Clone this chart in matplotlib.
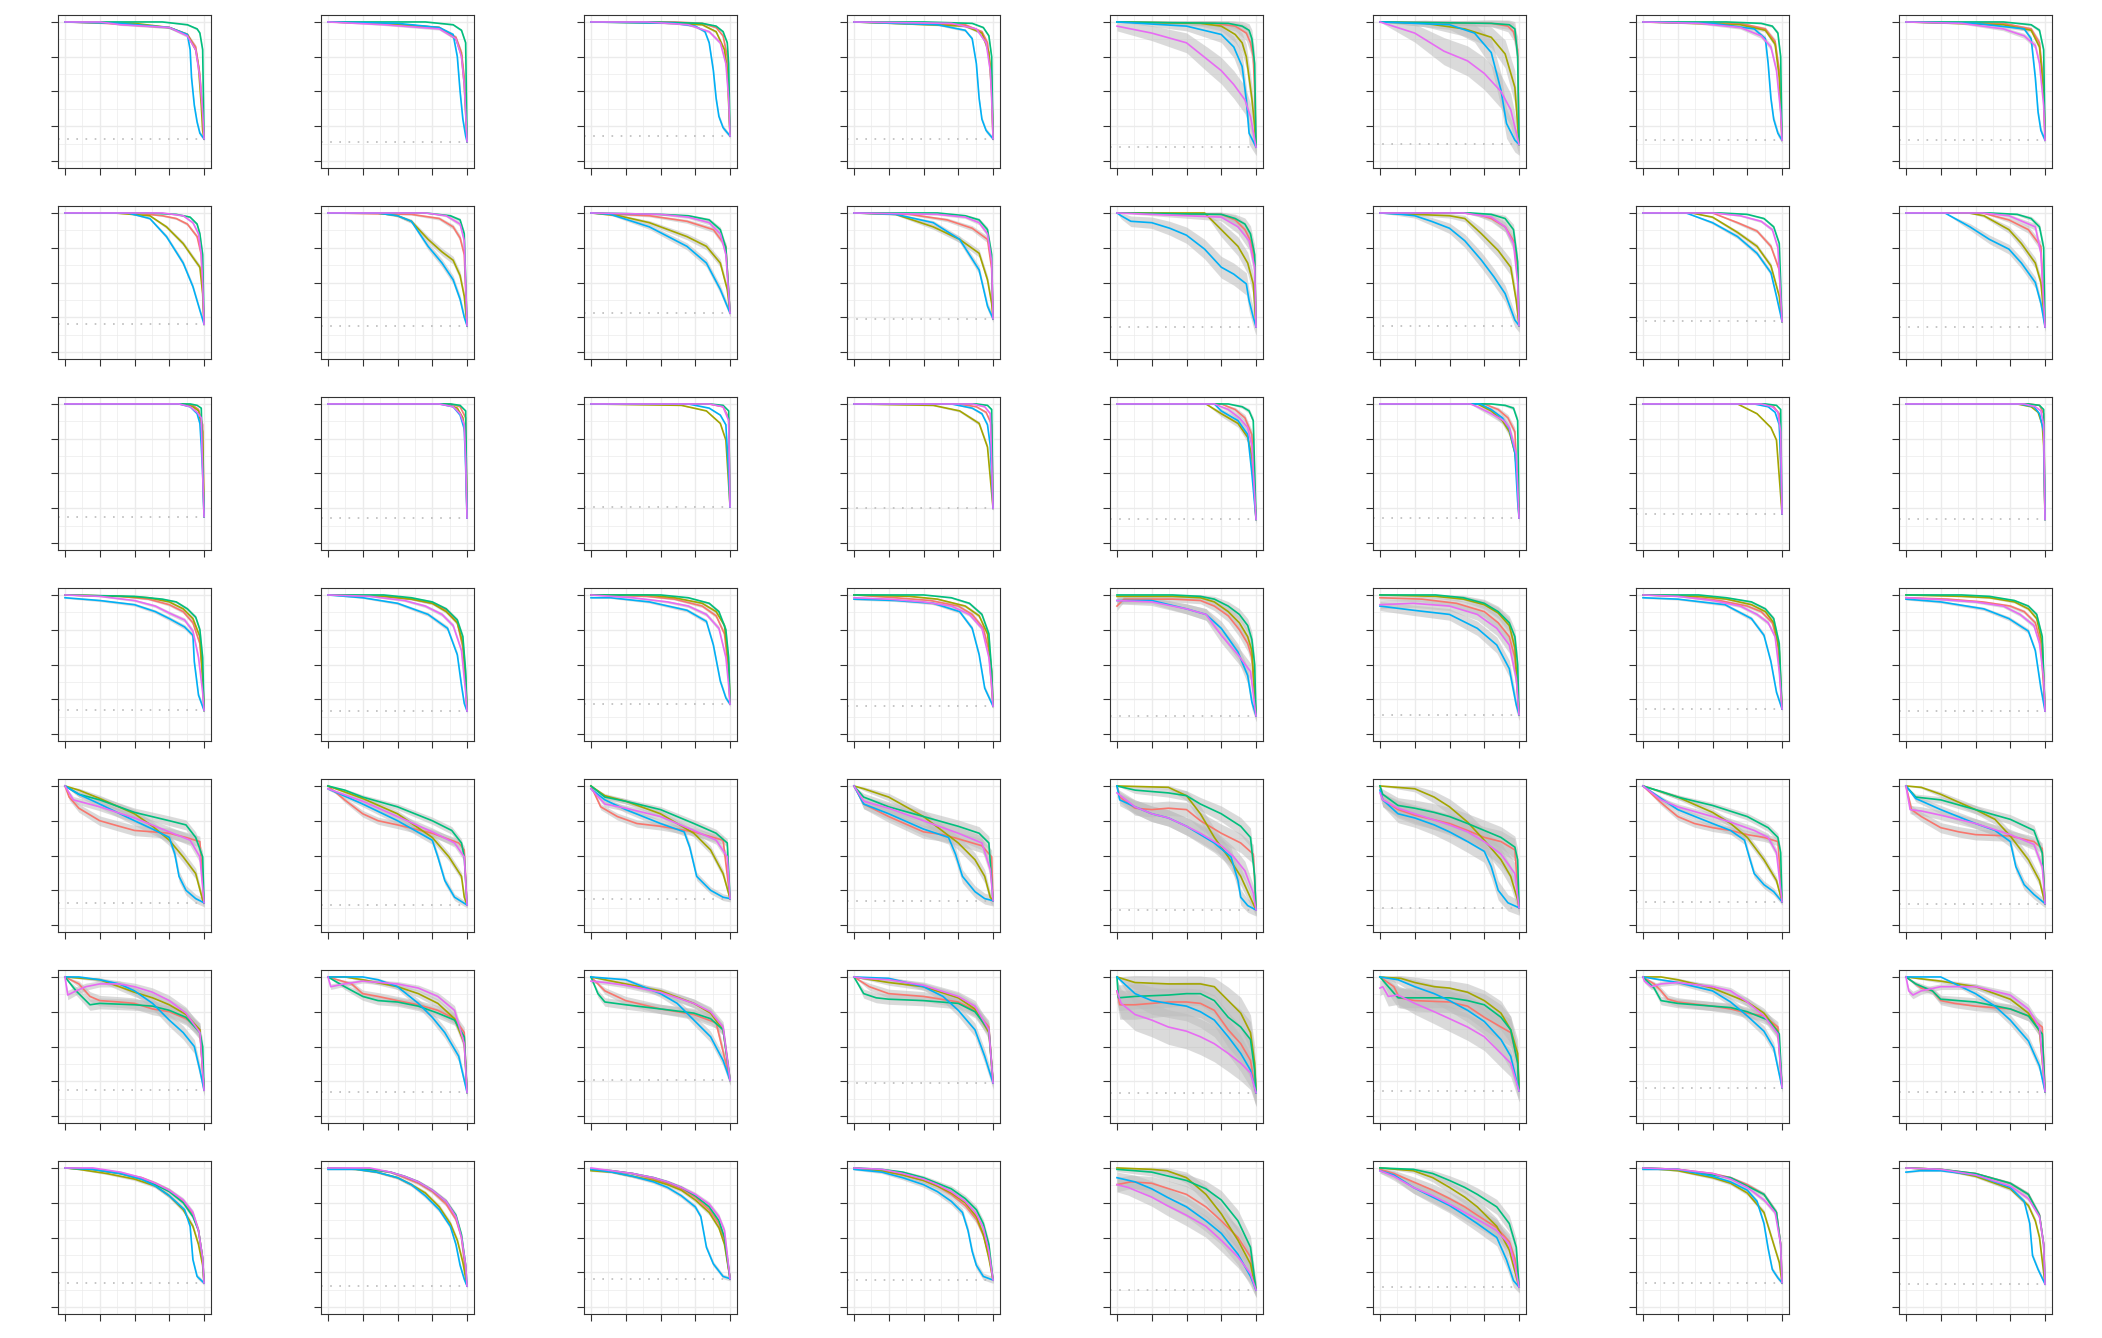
import numpy as np
import matplotlib
matplotlib.use("Agg")
import matplotlib.pyplot as plt

# series order in every panel: red, olive, green, blue, magenta
COLORS = ["#F8766D", "#A3A500", "#00BF7D", "#00B0F6", "#E76BF3"]

# each curve is "x:y x:y ..." in percent; every curve ends at (100, baseline)
ROW1 = [
    ["0:100 30:99 75:96 88:91 94:82 97:62 99:35", "0:100 50:99 75:96 88:91 94:80 96:68 98:40 99:22",
     "0:100 70:100 88:98 95:95 97:92 99:80", "0:100 40:99 75:96 88:91 90:80 91:60 93:40 95:28 97:20",
     "0:100 25:100 40:98 75:96 88:90 94:80 97:60 99:35"],
    ["0:100 40:99 80:96 92:89 96:78 98:60 99:40", "0:100 40:99 80:96 92:88 96:76 98:55 99:35",
     "0:100 70:100 90:98 96:94 99:85", "0:100 50:99 80:96 90:91 93:75 95:50 97:30 99:18",
     "0:100 40:98 80:95 92:88 96:75 98:55 99:35"],
    ["0:100 60:100 80:99 90:96 95:90 98:75", "0:100 60:99 80:98 90:93 96:80 98:65",
     "0:100 45:100 80:99 90:97 95:93 98:85 99:70", "0:100 60:99 75:97 82:93 85:85 88:65 90:45 92:32 95:24",
     "0:100 40:100 70:98 85:93 93:85 97:70 99:45"],
    ["0:100 80:98 92:93 96:85 99:60", "0:100 80:97 92:92 97:78 99:50",
     "0:100 50:100 85:99 93:96 97:90 99:75", "0:100 60:98 80:94 85:88 88:70 90:45 92:30 95:22",
     "0:100 70:99 88:95 95:85 98:65 99:45"],
    ["0:100 70:99 85:97 93:92 96:85 98:75 99:50", "0:100 60:99 75:97 85:91 90:85 93:75 95:60 97:45 99:25",
     "0:100 80:99 90:97 95:94 97:88 99:70", "0:100 50:97 75:91 84:82 90:68 93:44 95:20",
     "0:97 25:92 50:85 65:73 75:65 84:55 92:44 96:32"],
    ["0:100 80:99 92:97 96:93 99:80", "0:100 32:99 61:95 80:89 90:77 97:53",
     "0:100 80:99 93:98 97:95 99:75", "0:100 50:98 68:92 80:78 87:51 91:27 97:15",
     "0:100 25:92 46:79 63:72 75:63 87:50 94:37"],
    ["0:100 70:99 88:95 95:86 98:65", "0:100 70:98 88:94 95:84 98:60",
     "0:100 60:100 85:99 93:97 97:92 99:75", "0:100 50:99 80:95 88:88 90:70 92:45 94:30 97:20",
     "0:100 40:99 70:96 85:90 92:82 96:65 99:35"],
    ["0:100 70:99 90:95 96:85 99:55", "0:100 70:98 90:94 96:82 99:50",
     "0:100 70:100 90:98 96:94 99:80", "0:100 50:99 85:95 90:88 93:60 95:35 97:22",
     "0:100 40:99 70:95 85:90 93:83 96:70 99:40"],
]

ROW2 = [
    ["0:100 50:100 70:98 80:96 88:92 95:83 98:70", "0:100 35:100 61:98 73:90 85:78 92:68 97:61 99:42",
     "0:100 60:100 80:99 90:97 95:92 97:85 99:70", "0:100 45:100 61:96 73:83 85:64 92:47 97:30",
     "0:100 70:100 85:98 92:93 96:85 98:70 99:50"],
    ["0:100 60:99 80:96 90:90 95:82 98:70", "0:100 35:100 50:98 60:94 72:81 82:72 90:66 95:55 98:40",
     "0:100 70:100 88:98 95:95 98:85", "0:100 35:100 50:98 60:94 72:76 82:64 90:52 95:38 98:25",
     "0:100 70:100 85:98 95:92 98:80"],
    ["0:100 20:99 42:98 69:94 88:88 97:76", "0:100 20:98 42:93 69:83 83:76 93:64 98:45",
     "0:100 50:99 70:98 85:95 93:88 97:75", "0:100 14:99 42:90 69:76 83:64 93:45",
     "0:100 50:99 70:97 85:93 93:85 97:70"],
    ["0:100 40:99 67:95 85:89 96:81 99:60", "0:100 30:99 57:90 76:81 90:71 96:52 99:35",
     "0:100 60:100 80:98 90:95 96:88 99:70", "0:100 30:99 57:93 76:81 90:59 96:33",
     "0:100 60:99 80:97 90:93 96:85 99:65"],
    ["0:100 75:99 85:95 92:88 96:80 99:65", "0:100 63:100 75:88 87:76 94:64 98:49",
     "0:100 75:99 85:96 92:92 96:85 99:70",
     "0:100 3:98 10:94 25:93 38:89 50:84 63:74 75:61 84:56 93:49 95:37 98:25",
     "0:100 75:97 87:90 95:80 99:61"],
    ["0:100 60:100 70:99 80:96 90:90 96:80 99:60", "0:100 50:98 61:96 73:85 85:73 94:61 98:37",
     "0:100 65:100 80:99 90:96 96:88 99:65", "0:100 15:99 25:98 37:94 50:89 61:80 73:66 82:54 90:42 97:23",
     "0:100 60:100 80:97 90:90 96:78 99:50"],
    ["0:100 50:100 68:93 82:87 92:76 98:59", "0:100 35:100 50:97 68:86 82:76 92:62 98:40",
     "0:100 55:100 75:99 87:96 94:90 98:78", "0:100 31:100 50:93 68:83 82:71 92:57 96:40",
     "0:100 50:100 70:98 85:94 93:88 97:75"],
    ["0:100 55:100 74:95 88:88 97:76", "0:100 45:100 56:98 74:88 83:78 93:64 97:50",
     "0:100 60:100 80:99 90:96 96:90 99:75", "0:100 28:100 46:90 60:81 74:74 83:64 93:50 97:35",
     "0:100 55:100 74:98 93:90 97:71"],
]

ROW3 = [
    ["0:100 85:100 92:99 96:96 99:85", "0:100 85:100 92:98 96:95 99:80", "0:100 90:100 95:99 98:97",
     "0:100 82:100 90:98 95:93 97:86 98:70 99:50", "0:100 82:100 90:98 95:94 98:90 99:50"],
    ["0:100 88:100 95:98 99:90", "0:100 85:100 93:97 97:90 99:75", "0:100 88:100 95:99 99:95",
     "0:100 80:100 90:98 95:92 98:82 99:55", "0:100 80:100 90:98 95:93 98:85 99:60"],
    ["0:100 85:100 95:98 99:90", "0:100 65:99 83:95 93:86 97:74", "0:100 85:100 95:99 99:95",
     "0:100 70:100 85:97 93:92 97:85 99:50", "0:100 85:100 95:98 99:88"],
    ["0:100 75:100 88:98 95:94 99:85", "0:100 57:99 76:95 90:86 96:69", "0:100 88:100 96:99 99:96",
     "0:100 70:100 85:97 92:93 96:85 98:70", "0:100 85:100 94:98 98:93"],
    ["0:100 75:100 85:96 92:90 97:78", "0:100 64:100 75:93 87:86 94:76 97:62",
     "0:100 80:100 90:98 95:95 98:88", "0:100 70:100 75:95 87:88 94:78 97:50",
     "0:100 70:100 80:96 88:90 94:83 97:70"],
    ["0:100 75:100 85:96 92:90 97:80", "0:100 70:100 80:95 88:88 93:80 97:65 99:45",
     "0:100 80:100 90:99 96:97 99:88", "0:100 72:100 80:96 88:90 93:82 97:65 99:30",
     "0:100 65:100 70:98 80:93 89:88 93:83 98:64"],
    ["0:100 85:100 94:98 98:93", "0:100 68:100 82:93 92:83 96:74", "0:100 88:100 96:99 99:96",
     "0:100 80:100 90:98 95:94 98:85 99:60", "0:100 85:100 93:98 97:94 99:80"],
    ["0:100 88:100 96:99 99:93", "0:100 80:100 90:98 95:94 98:85 99:70", "0:100 88:100 96:99 99:96",
     "0:100 82:100 92:98 96:93 99:80", "0:100 85:100 93:98 97:95 99:85"],
]

ROW4 = [
    ["0:100 40:99 60:97 75:93 85:88 92:80 97:65 99:40", "0:100 40:99 60:98 75:95 85:90 92:83 97:70 99:40",
     "0:100 50:99 70:97 80:95 88:90 94:84 97:75 99:55", "0:98 25:96 50:93 65:88 75:83 86:77 92:71 93:52 96:28",
     "0:100 25:99 50:96 65:92 75:87 86:82 92:74 96:55 99:30"],
    ["0:100 40:99 60:97 75:94 85:89 93:80 97:62 99:35", "0:100 40:99 60:97 75:94 85:88 93:80 97:65 99:40",
     "0:100 40:100 60:98 75:95 85:90 93:82 97:70 99:45", "0:100 25:98 50:94 72:86 86:76 93:57 96:35 98:22",
     "0:100 30:99 55:96 70:92 82:86 90:78 96:60 99:30"],
    ["0:100 40:99 60:97 80:92 90:85 96:72 99:45", "0:100 40:100 60:98 80:94 90:88 96:78 99:50",
     "0:100 50:100 70:98 85:94 92:88 97:75 99:55", "0:98 14:98 42:95 69:89 83:81 88:64 93:38 97:26",
     "0:100 30:98 55:95 70:92 83:86 92:76 97:55 99:35"],
    ["0:100 30:98 55:96 75:92 85:86 93:76 97:60", "0:100 40:99 60:97 80:92 90:85 96:72 99:45",
     "0:100 50:100 70:98 83:94 92:86 97:72 99:45", "0:97 30:96 57:94 76:88 85:76 90:57 94:33",
     "0:98 25:97 50:95 70:92 83:86 92:76 97:55 99:35"],
    ["0:92 5:97 40:97 60:96 70:92 80:85 88:75 94:65 97:55", "0:99 40:99 60:98 70:95 80:88 88:80 94:70 97:60",
     "0:100 40:100 60:99 70:97 80:92 88:86 94:78 97:68 99:50", "0:96 25:96 50:90 64:86 75:76 87:59 94:42 97:23",
     "0:96 25:95 50:90 64:86 75:71 87:57 96:45"],
    ["0:98 30:97 55:94 75:88 85:80 93:70 97:55", "0:100 40:99 60:97 75:93 85:87 93:78 97:62",
     "0:100 40:100 60:98 75:94 85:88 93:80 97:70 99:50", "0:92 24:89 50:86 70:76 84:64 93:47 98:21",
     "0:93 24:94 50:92 70:86 84:76 93:64 98:40"],
    ["0:100 30:99 55:96 75:92 85:88 93:80 97:65", "0:100 40:99 60:97 78:93 88:88 94:80 98:60",
     "0:100 40:100 60:98 78:95 88:90 94:83 98:65", "0:98 25:97 59:93 78:83 87:71 92:52 96:30",
     "0:100 25:99 50:96 70:92 82:86 90:80 95:70 98:45"],
    ["0:98 30:97 55:95 75:92 85:88 93:80 97:65", "0:100 40:99 60:98 78:95 88:90 94:83 98:65",
     "0:100 40:100 60:99 78:96 88:92 94:86 98:70", "0:97 25:95 56:90 74:83 88:74 93:60 97:33",
     "0:98 20:97 50:95 70:92 82:86 92:78 96:65 99:40"],
]

ROW5 = [
    ["0:100 3:92 10:84 25:75 39:71 50:68 63:67 75:66 87:63 97:60",
     "0:100 10:97 25:91 50:80 63:71 75:61 85:49 94:37 99:18",
     "0:100 10:94 25:90 50:81 75:75 87:72 94:63 99:49",
     "0:100 10:94 25:87 50:75 63:69 75:63 79:51 82:35 87:25 94:19",
     "0:100 6:90 25:85 50:77 75:67 90:61 97:49"],
    ["0:100 12:90 25:80 36:75 50:72 75:66 94:59 98:54",
     "0:100 25:91 50:80 75:63 87:49 96:35 98:20",
     "0:100 12:97 25:92 50:85 75:75 89:68 96:59 98:49",
     "0:98 25:87 50:75 75:61 79:49 84:32 91:20",
     "0:98 25:89 50:78 75:67 91:59 98:49"],
    ["0:100 7:85 19:78 33:73 50:71 74:67 95:61",
     "0:100 10:93 25:89 50:80 74:66 86:54 95:37",
     "0:100 10:92 25:89 50:83 74:73 90:66 98:59",
     "0:98 10:90 25:83 50:73 67:67 71:56 76:35 86:25 95:20",
     "0:98 10:87 25:84 50:78 74:68 90:61 98:49"],
    ["0:100 7:87 25:78 50:67 64:65 75:62 92:57 99:49",
     "0:100 7:98 25:92 50:78 75:59 87:47 94:35 98:20",
     "0:100 7:92 25:85 50:78 75:71 90:66 97:59",
     "0:100 7:87 25:80 50:69 68:63 73:51 78:35 87:24 94:19",
     "0:100 7:89 25:84 50:75 75:66 92:59 98:40"],
    ["0:100 2:92 13:84 25:83 37:84 50:83 60:75 75:66 89:59 98:51",
     "0:100 37:99 50:93 60:80 70:63 80:49 89:35",
     "0:100 13:97 37:95 50:93 60:87 75:80 89:71 96:63 99:35",
     "0:100 2:90 13:85 25:80 37:77 50:71 60:65 70:59 82:49 87:32 89:20 94:14",
     "0:95 13:85 25:80 37:77 50:71 60:66 75:57 84:49 92:39 98:23"],
    ["0:100 2:90 13:83 25:79 50:73 63:68 75:63 87:60 97:54",
     "0:100 25:98 39:92 50:85 63:74 75:61 87:47 94:35 99:18",
     "0:100 2:94 13:86 25:84 39:81 50:78 63:73 75:68 87:63 97:56 99:47",
     "0:97 2:90 13:80 25:77 39:72 50:67 63:60 75:53 80:42 85:25 92:16",
     "0:95 2:90 13:84 25:80 50:72 63:67 75:60 87:51 97:37"],
    ["0:100 13:88 25:78 37:73 50:70 63:68 75:65 87:63 97:60",
     "0:100 25:92 50:81 63:73 75:63 87:47 96:32",
     "0:100 13:96 25:92 50:86 75:78 90:70 97:63 99:52",
     "0:100 13:91 25:83 50:73 63:68 73:61 77:47 80:37 87:29 94:24",
     "0:100 13:90 25:85 50:78 63:74 80:68 90:63 96:52"],
    ["0:100 4:83 11:78 25:70 38:67 50:65 75:64 92:60 98:55",
     "0:100 11:99 25:94 50:83 64:76 75:64 88:47 96:32",
     "0:100 7:92 25:90 50:83 75:76 92:68 98:52",
     "0:100 7:91 25:83 50:73 64:68 75:60 79:42 85:29 92:22",
     "0:100 3:83 11:82 25:79 50:73 75:65 92:58 98:42"],
]

ROW6 = [
    ["0:100 10:95 18:86 25:83 39:82 50:81 63:77 75:75 87:70 97:62",
     "0:100 25:98 39:93 50:89 63:85 75:80 87:73 97:62",
     "0:100 8:90 18:80 25:81 50:80 63:79 75:76 87:71 97:60 99:50",
     "0:100 10:100 25:98 39:95 50:90 63:81 75:69 85:60 93:50 97:33",
     "0:100 2:87 8:90 15:93 25:95 39:95 50:93 63:89 75:83 87:74 97:60"],
    ["0:100 17:95 25:88 36:86 50:83 65:80 79:76 91:70 98:60",
     "0:100 12:100 25:98 50:93 65:88 79:81 91:70 98:52",
     "0:100 12:93 25:86 36:83 50:82 65:79 79:74 91:69 98:57",
     "0:100 25:100 36:98 50:93 65:81 75:71 84:60 94:43",
     "0:100 2:93 12:95 25:97 50:95 65:92 79:86 91:76 98:52"],
    ["0:100 10:90 25:83 50:77 74:73 90:67",
     "0:100 25:95 50:90 74:81 86:74 95:62",
     "0:100 5:88 10:82 25:80 50:77 74:74 86:70 95:62",
     "0:100 25:98 50:88 62:81 74:69 86:57 95:40",
     "0:97 10:96 25:94 50:89 74:81 86:75 95:64"],
    ["0:100 11:93 25:88 50:86 75:82 87:76 97:64",
     "0:100 25:96 50:93 75:85 87:77 97:60",
     "0:100 7:88 16:85 25:84 50:83 75:81 87:75 97:62",
     "0:100 25:99 50:93 64:86 75:76 87:62 94:43",
     "0:100 7:99 25:98 50:94 75:86 87:79 97:62"],
    ["0:90 2:80 13:80 37:82 50:82 60:81 70:76 80:62 89:52 96:40",
     "0:100 13:96 37:95 60:95 70:93 80:83 89:74 96:60 99:38",
     "0:100 1:85 13:86 37:87 50:88 60:88 70:83 80:71 89:64 96:55 99:33",
     "0:100 13:88 25:83 37:81 50:79 60:75 70:69 80:57 89:45 96:33",
     "0:90 3:81 13:73 25:69 37:64 50:61 60:57 70:52 80:45 89:38 96:31"],
    ["0:100 10:93 14:85 25:83 50:82 63:79 75:71 87:64 94:60 99:40",
     "0:100 15:99 25:96 39:93 50:92 63:89 75:83 87:74 94:62 99:45",
     "0:100 6:93 13:85 25:85 50:85 63:83 75:80 87:71 94:62 99:38",
     "0:100 13:98 25:93 39:88 50:83 63:76 75:68 87:55 94:43",
     "0:92 2:93 6:86 13:87 25:81 39:75 50:70 63:64 75:57 87:45 94:38"],
    ["0:100 8:95 13:90 18:84 25:82 50:79 63:77 75:74 87:72 97:64",
     "0:100 13:100 25:98 50:92 75:82 87:74 97:61",
     "0:100 8:92 13:83 25:81 50:79 63:78 75:75 90:69 98:59",
     "0:100 25:96 50:90 63:82 75:72 87:61 94:49",
     "0:100 1:97 6:93 13:95 25:96 50:93 63:90 75:82 87:72 97:59"],
    ["0:100 11:92 19:90 25:83 35:81 50:79 75:77 88:72 98:64",
     "0:100 25:97 50:93 75:84 88:74 96:61",
     "0:100 7:95 19:90 25:84 50:82 75:77 88:72 98:59",
     "0:100 25:100 50:88 64:79 75:69 88:54 96:36",
     "0:100 2:90 5:87 11:90 25:93 50:93 75:87 88:77 96:64"],
]

ROW7 = [
    ["0:100 20:99 40:96 55:93 65:89 75:84 85:76 92:67 96:55 99:35",
     "0:100 10:99 30:96 50:92 65:87 75:80 85:70 92:58 96:45 99:30",
     "0:100 20:99 40:96 55:92 65:88 75:83 85:75 92:65 96:55 99:35",
     "0:100 20:99 40:96 55:92 65:87 75:80 86:70 90:58 92:34 95:22",
     "0:100 20:100 40:97 55:93 65:89 75:84 85:77 92:68 96:55 99:35"],
    ["0:100 30:99 45:97 55:93 65:89 75:83 85:74 92:63 96:50",
     "0:100 20:99 35:97 50:93 60:88 70:82 80:72 88:60 93:48 97:32",
     "0:100 30:99 45:97 55:94 65:90 75:84 85:76 92:66 96:52 99:30",
     "0:99 20:99 35:97 50:93 60:88 70:80 80:70 88:58 92:45 95:30 98:20",
     "0:100 30:100 45:97 55:94 65:90 75:84 85:76 92:65 96:50 99:30"],
    ["0:99 15:98 30:96 45:92 55:89 65:85 75:79 85:70 92:60 96:48",
     "0:98 15:97 30:94 45:91 55:88 65:84 75:77 85:68 92:57 96:45",
     "0:99 15:98 30:96 45:93 55:90 65:86 75:80 85:72 92:62 96:50",
     "0:99 15:97 30:94 45:90 55:86 65:80 75:72 79:65 83:43 88:31 95:22",
     "0:100 15:98 30:96 45:93 55:90 65:86 75:81 85:74 92:65 96:55"],
    ["0:100 20:98 35:95 50:91 60:87 70:81 80:73 88:63 93:52 97:38",
     "0:100 20:98 35:95 50:91 60:87 70:82 80:75 88:65 93:52 97:35",
     "0:100 20:99 35:97 50:93 60:89 70:85 80:78 88:70 93:60 97:45",
     "0:99 20:97 35:93 50:88 60:83 70:76 78:68 82:55 85:40 88:30 93:22",
     "0:100 20:99 35:96 50:92 60:88 70:83 80:76 88:67 93:57 97:40"],
    ["0:88 10:90 25:89 50:81 64:72 75:62 87:50 96:36",
     "0:100 25:99 36:98 50:93 64:81 75:67 87:48 96:31",
     "0:99 13:98 25:97 50:91 64:85 75:77 87:62 96:43",
     "0:93 13:90 25:85 36:79 50:72 64:62 75:53 87:38 96:22",
     "0:88 8:86 25:79 36:73 50:66 64:58 75:48 87:36 96:24"],
    ["0:99 10:96 24:90 38:84 50:78 61:72 70:66 84:57 93:47 97:35",
     "0:100 24:98 38:93 50:86 61:79 70:72 84:58 93:41",
     "0:100 24:99 38:96 50:91 61:86 70:81 84:72 93:60 98:43",
     "0:98 10:95 24:86 38:79 50:73 61:66 70:60 84:50 91:34 96:19",
     "0:98 10:94 24:86 38:80 50:74 61:68 70:63 84:55 93:45 97:30"],
    ["0:100 25:99 50:96 63:93 75:88 87:81 96:68 99:45",
     "0:100 25:98 50:93 63:89 75:82 87:68 94:45 98:32",
     "0:100 25:99 50:95 63:93 75:87 87:81 96:68 99:45",
     "0:99 25:99 50:94 63:90 75:84 82:76 87:60 90:42 93:27 97:21",
     "0:100 25:99 50:96 63:92 75:86 87:77 95:68 99:45"],
    ["0:100 25:99 50:96 75:89 88:81 96:66 99:45",
     "0:100 25:99 50:94 75:85 88:73 93:62 96:50",
     "0:100 25:99 50:96 75:89 88:81 96:66 99:45",
     "0:97 10:98 25:98 50:95 75:86 85:76 89:60 91:37 95:27",
     "0:100 25:99 50:95 75:87 88:78 96:65 99:45"],
]

# dotted baseline level per panel (percent)
DOTTED = [
    [16, 14, 18, 16, 10, 12, 15, 15],
    [20, 19, 28, 24, 18, 19, 22, 18],
    [19, 18, 26, 25, 17, 18, 21, 17],
    [17, 16.5, 21.5, 20, 13, 14, 18, 16.5],
    [16, 14.4, 19, 17.5, 10.8, 12.4, 16.7, 15.4],
    [18.6, 17, 25.7, 23.8, 16.7, 18, 20.5, 17.6],
    [17.3, 15.1, 20.4, 19.4, 12.2, 14.4, 17.5, 16.5],
]

# ribbon half-width at mid height per panel (percent)
BAND = [
    [2, 2, 2, 2, 10, 12, 3, 3],
    [2, 3, 3, 3, 8, 6, 2, 4],
    [1, 1, 1, 2, 4, 4, 1, 1],
    [2, 2, 2, 2, 6, 6, 2, 2],
    [4, 3, 3, 5, 7, 8, 3, 4],
    [5, 4, 4, 5, 13, 10, 4, 4],
    [2, 2, 2, 3, 8, 6, 2, 2],
]

ROWS = [ROW1, ROW2, ROW3, ROW4, ROW5, ROW6, ROW7]


def parse(s, end):
    pts = [p.split(":") for p in s.split()]
    xs = [float(a) / 100 for a, b in pts] + [1.0]
    ys = [float(b) / 100 for a, b in pts] + [end / 100]
    return np.array(xs), np.array(ys)


W, H = 2102, 1338
fig = plt.figure(figsize=(W / 100, H / 100), dpi=100)

for r, row in enumerate(ROWS):
    for c, panel in enumerate(row):
        left = (58 + 263 * c) / W
        bottom = 1 - (15 + 191 * r + 153) / H
        ax = fig.add_axes([left, bottom, 153 / W, 153 / H])
        lvl = DOTTED[r][c]
        bw = BAND[r][c] / 100

        curves = [parse(s, lvl) for s in panel]
        for xs, ys in curves:
            hw = bw * 2 * np.sqrt(np.clip(ys * (1 - ys), 0, None))
            ax.fill_between(xs, ys - hw, ys + hw, color="#BDBDBD", alpha=0.55, lw=0)

        ax.plot([-0.05, 1.0], [lvl / 100, lvl / 100], color="#BBBBBB", lw=1.2, ls=(0, (1, 4.5)))

        for (xs, ys), col in zip(curves, COLORS):
            ax.plot(xs, ys, color=col, lw=1.2)

        ax.set_xlim(-0.05, 1.05)
        ax.set_ylim(-0.05, 1.05)
        ticks = [0, 0.25, 0.5, 0.75, 1]
        ax.set_xticks(ticks)
        ax.set_yticks(ticks)
        ax.set_xticks([0.125, 0.375, 0.625, 0.875], minor=True)
        ax.set_yticks([0.125, 0.375, 0.625, 0.875], minor=True)
        ax.grid(which="major", color="#EBEBEB", lw=1.0)
        ax.grid(which="minor", color="#EBEBEB", lw=0.5)
        ax.set_axisbelow(True)
        ax.tick_params(which="major", length=5, width=0.8, color="#333333",
                       labelleft=False, labelbottom=False)
        ax.tick_params(which="minor", length=0)
        for sp in ax.spines.values():
            sp.set_color("#333333")
            sp.set_linewidth(0.8)

fig.savefig("out.png", dpi=100)
